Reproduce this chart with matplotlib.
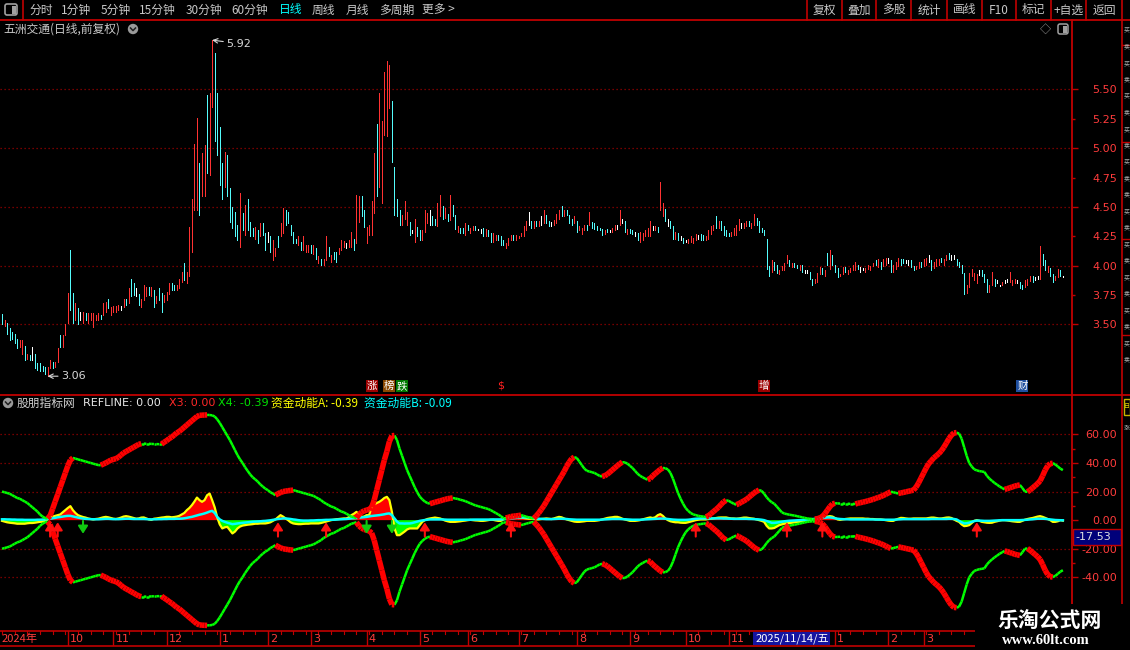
import numpy as np
import matplotlib
matplotlib.use('Agg')
import matplotlib.pyplot as plt
from matplotlib.collections import LineCollection
from matplotlib.patches import Rectangle, FancyBboxPatch, Circle

# ---------------- data ----------------
hi = [
 3.59, 3.54, 3.51, 3.47, 3.44, 3.42, 3.38, 3.37, 3.37, 3.32,
 3.25, 3.24, 3.31, 3.25, 3.17, 3.17, 3.15, 3.14, 3.14, 3.20,
 3.18, 3.18, 3.30, 3.41, 3.41, 3.50, 3.77, 4.13, 3.77, 3.68,
 3.64, 3.61, 3.61, 3.60, 3.60, 3.60, 3.60, 3.58, 3.60, 3.58,
 3.68, 3.69, 3.72, 3.65, 3.66, 3.66, 3.67, 3.66, 3.72, 3.72,
 3.81, 3.89, 3.85, 3.81, 3.76, 3.72, 3.84, 3.82, 3.82, 3.82,
 3.79, 3.74, 3.81, 3.77, 3.75, 3.78, 3.85, 3.85, 3.84, 3.84,
 3.89, 3.95, 4.02, 3.95, 4.33, 4.57, 5.04, 5.26, 4.87, 4.96,
 5.03, 5.45, 5.47, 5.92, 5.81, 5.47, 5.18, 4.87, 4.97, 4.94,
 4.66, 4.50, 4.46, 4.35, 4.62, 4.45, 4.52, 4.57, 4.37, 4.32,
 4.33, 4.30, 4.36, 4.36, 4.28, 4.29, 4.25, 4.22, 4.15, 4.25,
 4.36, 4.49, 4.47, 4.46, 4.35, 4.29, 4.23, 4.25, 4.20, 4.25,
 4.18, 4.18, 4.18, 4.18, 4.15, 4.08, 4.06, 4.06, 4.25, 4.16,
 4.09, 4.12, 4.12, 4.15, 4.22, 4.21, 4.19, 4.22, 4.29, 4.23,
 4.60, 4.59, 4.59, 4.47, 4.33, 4.35, 4.55, 4.96, 5.21, 5.47,
 5.23, 5.65, 5.74, 5.71, 5.40, 4.84, 4.57, 4.47, 4.43, 4.55,
 4.46, 4.37, 4.30, 4.40, 4.33, 4.30, 4.30, 4.47, 4.45, 4.47,
 4.42, 4.40, 4.53, 4.60, 4.51, 4.49, 4.44, 4.60, 4.52, 4.43,
 4.34, 4.32, 4.32, 4.36, 4.35, 4.32, 4.34, 4.34, 4.31, 4.31,
 4.32, 4.31, 4.30, 4.28, 4.28, 4.26, 4.26, 4.25, 4.22, 4.19,
 4.24, 4.26, 4.26, 4.26, 4.25, 4.28, 4.34, 4.38, 4.46, 4.38,
 4.38, 4.38, 4.38, 4.42, 4.47, 4.43, 4.38, 4.37, 4.39, 4.44,
 4.47, 4.51, 4.47, 4.47, 4.43, 4.40, 4.42, 4.38, 4.34, 4.32,
 4.35, 4.35, 4.46, 4.37, 4.36, 4.34, 4.32, 4.31, 4.30, 4.31,
 4.30, 4.32, 4.35, 4.35, 4.47, 4.40, 4.38, 4.31, 4.31, 4.30,
 4.29, 4.28, 4.29, 4.28, 4.30, 4.32, 4.38, 4.34, 4.34, 4.33,
 4.71, 4.53, 4.48, 4.40, 4.38, 4.34, 4.29, 4.28, 4.25, 4.24,
 4.22, 4.23, 4.25, 4.24, 4.27, 4.26, 4.27, 4.26, 4.25, 4.30,
 4.34, 4.35, 4.42, 4.38, 4.38, 4.34, 4.30, 4.28, 4.29, 4.32,
 4.35, 4.40, 4.36, 4.36, 4.38, 4.38, 4.36, 4.44, 4.41, 4.38,
 4.32, 4.30, 4.23, 4.00, 4.05, 4.03, 4.01, 3.96, 4.00, 4.02,
 4.09, 4.05, 4.02, 4.02, 4.01, 4.01, 4.01, 3.96, 3.96, 3.95,
 3.89, 3.89, 3.94, 3.99, 3.98, 3.96, 4.11, 4.13, 4.09, 4.01,
 3.98, 3.93, 3.99, 3.99, 3.96, 3.98, 4.01, 4.03, 4.01, 3.99,
 3.98, 3.98, 4.01, 4.00, 4.02, 4.05, 4.06, 4.03, 4.06, 4.07,
 4.07, 4.05, 4.01, 4.03, 4.07, 4.06, 4.06, 4.05, 4.05, 4.05,
 4.00, 4.00, 4.03, 4.03, 4.06, 4.07, 4.09, 4.05, 4.03, 4.06,
 4.06, 4.07, 4.06, 4.09, 4.11, 4.09, 4.09, 4.06, 4.03, 4.01,
 3.94, 3.84, 3.94, 3.97, 3.94, 3.93, 3.96, 3.96, 3.93, 3.89,
 3.84, 3.95, 3.89, 3.88, 3.84, 3.86, 3.88, 3.89, 3.95, 3.88,
 3.89, 3.88, 3.86, 3.84, 3.88, 3.89, 3.91, 3.91, 3.90, 3.91,
 4.17, 4.10, 4.05, 4.00, 3.98, 3.93, 3.91, 3.97, 3.96, 3.91,
]
lo = [
 3.50, 3.49, 3.42, 3.37, 3.38, 3.34, 3.30, 3.31, 3.25, 3.20,
 3.21, 3.20, 3.20, 3.13, 3.11, 3.10, 3.10, 3.08, 3.06, 3.13,
 3.13, 3.14, 3.18, 3.31, 3.31, 3.41, 3.51, 3.62, 3.51, 3.54,
 3.50, 3.54, 3.51, 3.54, 3.51, 3.54, 3.48, 3.54, 3.54, 3.55,
 3.58, 3.61, 3.64, 3.58, 3.61, 3.61, 3.62, 3.62, 3.65, 3.67,
 3.68, 3.74, 3.75, 3.74, 3.67, 3.65, 3.71, 3.74, 3.75, 3.74,
 3.65, 3.68, 3.71, 3.61, 3.69, 3.71, 3.76, 3.79, 3.79, 3.79,
 3.81, 3.86, 3.88, 3.85, 3.91, 4.12, 4.47, 4.47, 4.43, 4.59,
 4.59, 4.79, 4.77, 5.35, 5.06, 4.94, 4.69, 4.57, 4.67, 4.59,
 4.37, 4.32, 4.25, 4.22, 4.16, 4.30, 4.26, 4.30, 4.25, 4.25,
 4.23, 4.19, 4.25, 4.26, 4.13, 4.20, 4.12, 4.05, 4.08, 4.16,
 4.25, 4.28, 4.35, 4.36, 4.26, 4.19, 4.19, 4.18, 4.13, 4.13,
 4.12, 4.12, 4.11, 4.10, 4.06, 4.02, 4.01, 4.01, 4.05, 4.08,
 4.03, 4.06, 4.03, 4.10, 4.13, 4.16, 4.15, 4.16, 4.16, 4.13,
 4.19, 4.37, 4.42, 4.33, 4.19, 4.26, 4.26, 4.45, 4.59, 4.67,
 4.53, 5.11, 5.10, 5.34, 4.88, 4.43, 4.42, 4.35, 4.35, 4.40,
 4.35, 4.26, 4.28, 4.20, 4.25, 4.22, 4.22, 4.29, 4.36, 4.35,
 4.35, 4.35, 4.34, 4.42, 4.40, 4.41, 4.38, 4.39, 4.42, 4.31,
 4.29, 4.28, 4.28, 4.26, 4.30, 4.28, 4.30, 4.30, 4.30, 4.28,
 4.25, 4.25, 4.25, 4.20, 4.20, 4.22, 4.22, 4.18, 4.18, 4.15,
 4.18, 4.22, 4.22, 4.22, 4.24, 4.25, 4.25, 4.30, 4.35, 4.32,
 4.32, 4.34, 4.34, 4.35, 4.36, 4.36, 4.34, 4.34, 4.35, 4.36,
 4.40, 4.42, 4.42, 4.43, 4.36, 4.35, 4.36, 4.29, 4.30, 4.27,
 4.30, 4.30, 4.35, 4.32, 4.31, 4.30, 4.30, 4.26, 4.27, 4.29,
 4.29, 4.29, 4.30, 4.31, 4.35, 4.36, 4.29, 4.27, 4.28, 4.27,
 4.25, 4.22, 4.20, 4.22, 4.25, 4.25, 4.25, 4.30, 4.30, 4.29,
 4.47, 4.42, 4.38, 4.34, 4.32, 4.23, 4.23, 4.22, 4.22, 4.19,
 4.20, 4.19, 4.20, 4.19, 4.22, 4.23, 4.22, 4.22, 4.22, 4.23,
 4.27, 4.30, 4.32, 4.32, 4.30, 4.26, 4.25, 4.25, 4.25, 4.26,
 4.26, 4.30, 4.32, 4.32, 4.34, 4.34, 4.32, 4.35, 4.35, 4.29,
 4.29, 4.26, 3.97, 3.91, 3.95, 3.96, 3.94, 3.93, 3.96, 3.96,
 4.02, 4.00, 3.99, 3.99, 3.98, 3.96, 3.95, 3.94, 3.94, 3.89,
 3.84, 3.85, 3.86, 3.93, 3.93, 3.91, 4.01, 3.97, 4.01, 3.95,
 3.90, 3.91, 3.93, 3.95, 3.93, 3.95, 3.96, 3.96, 3.97, 3.95,
 3.96, 3.95, 3.97, 3.96, 4.00, 4.01, 3.99, 3.97, 4.00, 4.01,
 4.02, 3.95, 3.95, 3.97, 4.00, 4.01, 4.02, 4.02, 4.01, 3.99,
 3.96, 3.97, 3.98, 3.99, 4.00, 4.01, 4.03, 3.96, 3.98, 4.00,
 4.01, 4.03, 4.01, 4.05, 4.06, 4.05, 4.06, 4.01, 3.99, 3.94,
 3.76, 3.77, 3.82, 3.91, 3.88, 3.85, 3.92, 3.91, 3.86, 3.78,
 3.78, 3.84, 3.83, 3.85, 3.83, 3.84, 3.85, 3.86, 3.86, 3.84,
 3.85, 3.85, 3.81, 3.80, 3.82, 3.84, 3.87, 3.86, 3.88, 3.89,
 3.89, 4.01, 3.96, 3.95, 3.91, 3.86, 3.88, 3.90, 3.91, 3.90,
]
# r = up (red), c = down (cyan), w = flat (white)
col = ("crcccccrrc" "rcwcccccrr" "crrcrrrccr" "cwrcrrrrrc" "rrcrrrrwrc"
       "rccwcrrrcr" "crccrrrccr" "rrcrrrrrcr" "rcrrccccrc" "ccccrcrccc"
       "rcrccwcrrc" "rrcccccrcr" "rrcrcrcrrc" "rccrrrwrrc" "rrccrrrrcr"
       "rrrrccccrr" "rcwrccrrrw" "ccrrcrcrcc" "rccrcrrcww" "crccrrcccr"
       "rrcrrrrrwc" "rcrwrccwrr" "rcrcccrcrr" "rcrcccccrc" "wrrwrwcrcc"
       "wcrrrrrwrc" "rrcwccrcwc" "wrrrrwccrr" "rrcrccccrr" "rrwrrcrrcc"
       "ccccrccrrr" "rcrccrcwwc" "crrrcrcrcc" "crrcrrrrcw" "wrrrrcrcrr"
       "wcrrrccwwc" "crrcrrwcrr" "rcrrcwwccc" "crrrrrwccc" "rrcwwrwwrr"
       "rwccrrrcww" "rccrccrrcw")

# indicator envelope (upper line, lower line is its mirror)
env = [
 20, 19.5, 19, 18.5, 17.5, 16.5, 15.5, 15, 14, 13,
 12, 10.5, 9, 7.5, 6, 4, 2.5, 1.5, 1.2, 3,
 8, 13, 18, 23, 28, 33, 38, 42, 43.5, 43,
 42.5, 42, 41.5, 41, 40.5, 40, 39.5, 39, 38.5, 38.4,
 39.2, 40, 41, 42, 42.5, 43, 44, 45.5, 47, 48,
 49, 50, 51, 52, 53, 53.5, 53.5, 53.4, 53.4, 53.3,
 53.2, 53.2, 53.1, 53.1, 54.5, 55.5, 57, 58, 59.5,
 61, 62, 63.5, 65, 66.5, 68, 69.5, 71, 72.5, 73.3,
 73.4, 73.5, 73.6, 73.5, 73.3, 72.5, 70.5, 68, 65, 62,
 59, 56, 52.5, 49, 45.5, 42.5, 40, 37, 34.5, 32,
 30, 28.5, 27, 25, 23.5, 22, 21, 19.5, 18.5, 17.5,
 18.5, 19.3, 20, 20.3, 20.6, 20.8, 21, 20.5, 20, 19.5,
 19, 18.5, 18, 17.5, 17, 16, 15, 14, 12.5, 11.5,
 10.5, 9.5, 9, 8, 7, 6, 5.5, 4.5, 3.5, 2.5,
 2, 1.5, 4, 5.5, 6.5, 7, 7.5, 9, 14, 21,
 28, 35, 42, 48, 55, 59, 59.2, 56, 50, 45,
 40, 35, 31, 27, 23, 19.5, 16.5, 14.5, 13, 12,
 11.5, 12, 12.5, 13, 13.5, 14, 14.5, 15, 15.3, 15.5,
 15.2, 14.8, 14.3, 13.8, 13.3, 12.5, 11.8, 11, 10.3, 9.8,
 9.3, 8.8, 8.3, 7.8, 7, 6, 5, 4, 2.8, 1.5,
 1.5, 2, 2.5, 2.8, 3, 3.2,
 3.5, 3, 2.5,
 2, 1.5, 1.2, 3, 5, 7.5, 10, 13, 16, 19,
 22, 25, 28, 31, 34, 37.5, 40.5, 43, 44, 43.5,
 41, 38.5, 36, 34.5, 34, 33.5, 33, 32, 31, 30.5,
 31, 32, 33.5, 35, 36.5, 38, 39.5, 40.5, 40.4, 39.5,
 38, 36.5, 34.5, 32.5, 31, 30, 29, 28.3, 29, 31,
 32.5, 34, 35.5, 36.5, 36.3, 35.5, 33, 29, 24, 19,
 15, 11.5, 8.5, 6.5, 5, 4, 3.5, 3, 2.7, 2.5,
 2.3, 3, 4.5, 6, 7.5, 9, 11, 12.8, 13.8, 13.5,
 12.5, 11.5, 10.8, 11.5, 12.5, 13.5, 14.5, 16, 17.5, 19,
 20.2, 21, 20.5, 18.5, 16, 14, 12.5, 11.5, 9.5, 7.5,
 5.5, 4.6, 4.2, 3.8, 3.5, 3.2, 2.8, 2.4, 2, 1.6,
 1.2, 1, 0.8, 0.8, 1, 1.5, 2.5, 4.5, 7, 9.5,
 11.3, 11.8, 11.7, 11.6, 11.6, 11.5, 11.5, 11.4, 11.4, 11.3,
 11.8, 12.2, 12.6, 13, 13.5, 14, 14.5, 15.2, 15.8, 16.4,
 17.2, 18, 19, 19.8, 19.6,
 19, 18.7, 19, 19.4,
 19.8, 20.2, 20.6, 21, 23, 26, 29.5, 33, 36.5, 39.5,
 41.5, 43.5, 45, 46.5, 48.5, 51, 54, 57, 59.5, 61,
 61.2, 60.5, 57, 51, 45, 40, 37.5, 35.5, 34.8, 34.3,
 34, 33.7, 31, 29, 27.5, 26, 24.8, 23.5, 22.5, 21.5,
 22, 22.6, 23.2, 23.8, 24.3, 24.6, 22.5, 20, 19.8, 21,
 22.5, 24, 25.5, 27.5, 31, 35, 38, 39.5, 39.8, 39,
 37.5, 36, 35,
]
# 资金动能A (yellow)
ma = [
 -0.5, -1, -1.5, -1.8, -2, -2.2, -2.5, -2.5, -2.5, -2.5, -2.2, -2, -2, -1.8, -1.5, -1.2, -1, -0.5, 0.5,
 1.5, 2.5, 3, 3.5, 4, 5.5, 7, 8.5, 9.8, 7, 5, 3.5, 2.8, 2.2, 1.8,
 1.2, 0.8, 0.5, 0.8, 1, 1.5, 2, 2.3, 2, 1.5, 1, 0.8, 1.2, 1.8, 2.5, 2.8, 2.5, 2, 1.5, 1, 1.2, 1.8, 1.9, 1.2, 0.5, 0.2,
 1, 1.2, 1.5, 1.8, 2, 2.3, 2.3, 2, 2.2, 2.5, 3, 4, 5, 7,
 8.5, 10.5, 13, 15.8, 14, 12.8, 14, 17.4, 18.6, 14, 9, 2,
 -3, -5.8, -5, -4.7, -7, -9.3, -8, -5.8, -4.5, -3.8, -3.5, -3.2, -3, -2.8, -2.5, -2.5, -2.3, -2.3, -2.3, -2, -1.5, -0.5, 0.5,
 2, 3.5, 2.5, 1.2, 0, -1.5, -2.3, -2.6, -2.8, -2.8, -2.6, -2.5, -2.5, -2.3, -2.3, -2.3, -2.3, -2, -1.5, -1,
 -0.5, 0, 0.3, 0.6, 0.8, 1, 1.2, 1.2, 2, 3.5, 4.5, 5.8,
 4, 2.3, 2.5, 3.5, 3.5, 9.3, 11, 12, 12.8, 14, 15.5, 16.3, 14, 5.8, -5.8, -10.5, -10.5, -9.3, -8, -6.5,
 -5.8, -5.8, -5.8, -5.8, -3.5, -1.2, 0, 0.8, 1.2,
 1.5, 1.8, 1.5, 1.2, 0.5, -0.3, -0.8, -1.2, -1.2, -1.2, -1, -0.8, -0.5, -0.3, 0, 0.2, 0, -0.2, -0.3, -0.5,
 -0.5, -0.3, 0, 0.3, 0.2, -0.2, -0.5, -0.5, 0.5,
 1.5, 2.3, 2.3, 2, 1.8, 1.5,
 1.8, 1.5, 1.2, 1, 1, 0.8, 0.5, 0.5, 0.8, 1, 1.2, 1, 0.8, 1.2, 1.8, 2.3, 2, 1.2, 0.5, 0, -0.5, -1, -1.2, -1.2,
 -1, -0.8, -0.5, -0.5, -0.5, -0.5, -0.3, 0, 0.5, 1, 1.5, 1.8, 2, 2.3, 2.3, 1.8, 1, 0.5, 0, -0.5,
 -0.5, -0.5, -0.3, 0, 0.5, 1, 1.5, 1.9, 1.5, 2,
 3.5, 4.2, 3, 1.2, 0, -0.8, -1.2, -1.5, -1.5, -1.8, -1.9, -1.9, -1.5, -1, -0.5, 0, 0.3, 0.5, 0.5, 0.5,
 0.8, 1, 1.2, 1.5, 1.8, 1.9, 1.9, 1.9, 1.5, 1.2, 1.2, 1, 1.2, 1.5, 1.8, 1.8, 1.5, 1.2, 1, 0.5, 0, -0.5,
 -1.2, -4, -5.8, -5.8, -5.5, -4.5, -3.5, -3, -2.5, -2.3, -2,
 -1.8, -1.5, -1.2, -1.2, -0.8, -0.5, 0, 0.3, 0.5, 0.8, 1, 1.3, 1.6, 2, 2.5, 2.8, 2.5, 1.5, 0.5, 0.2,
 0.5, 0.8, 1, 1.2, 1.2, 1.2, 1.2,
 1.2, 1.2, 1, 1, 0.8, 0.8, 0.6, 0.5, 0.5, 0.3, 0, -0.3, -0.5, -0.5,
 0.3, 1, 1.6, 1.5, 1.2, 1, 1, 1.2, 1.2, 1.2, 1.2, 1.2, 1.2, 1.5,
 1.8, 1.8, 1.5, 1.2, 1.2, 1.5, 1.8, 1.9, 1.5, 0.5, -0.5, -1.2, -3, -4.2, -4, -3.5, -2, -0.5, 0, -0.5,
 -1.2, -1.5, -1.8, -1.9, -1.8, -1.2, -0.8, -0.3, 0, 0, -0.2, -0.5, -0.8, -1, -1.2, -1.2, -0.5, 0.3, 0.8, 1.2,
 1.5, 2, 2.5, 2.8, 2.3, 1.6, 0.8, 0, -1.2, -1.2, -0.8, 0, -0.39,
]
# 资金动能B (cyan)
mb = [
 0.6, 0.6, 0.5, 0.5, 0.4, 0.4, 0.3, 0.3, 0.3, 0.2, 0.2, 0.2, 0.2, 0.2, 0.3, 0.3, 0.4, 0.5, 0.8,
 1, 1.3, 1.6, 2, 2.2, 2.5, 2.8, 3, 3, 2.6, 2.2, 1.8, 1.4, 1.1, 0.9,
 0.8, 0.7, 0.6, 0.6, 0.6, 0.7, 0.8, 0.9, 0.9, 0.8, 0.7, 0.7, 0.7, 0.8, 0.9, 1, 1, 0.9, 0.8, 0.8,
 0.8, 0.8, 0.8, 0.7, 0.6, 0.5, 0.6, 0.6, 0.7, 0.7, 0.8, 0.8, 0.9, 0.9, 0.9, 1, 1, 1.1, 1.3, 1.6,
 2, 2.3, 2.8, 3.3, 3.8, 4.2, 4.7, 5.3, 6, 6.5, 5, 2.3,
 0.5, -0.5, -1.2, -1.8, -2.3, -2.8, -2.6, -2.3, -2.1, -1.9, -1.7, -1.5, -1.3, -1.1, -1, -0.9, -0.8, -0.6, -0.5, -0.3, -0.1, 0.2, 0.5,
 0.8, 1, 1.2, 1.2, 1, 0.8, 0.5, 0.3, 0, -0.2, -0.3, -0.3, -0.3, -0.2, -0.2, -0.1, 0, 0, 0.1, 0.2,
 0.2, 0.3, 0.3, 0.4, 0.5, 0.6, 0.7, 0.8, 1, 1.2, 1.3, 1.5,
 1.7, 1.9, 2.1, 2.3, 2.6, 2.9, 3.1, 3.3, 3.5, 3.8, 4.1, 4.5, 4.7, 3.5, 1.2, -1, -2.3, -2.3, -2.4, -2.3,
 -2.3, -2, -1.5, -1, -0.5, -0.2, 0.1, 0.3, 0.5,
 0.5, 0.5, 0.5, 0.5, 0.5, 0.4, 0.3, 0.3, 0.3, 0.3, 0.3, 0.3, 0.3, 0.3, 0.3, 0.3, 0.4, 0.4, 0.4, 0.4,
 0.4, 0.4, 0.4, 0.4, 0.5, 0.5, 0.5, 0.5, 0.6,
 0.8, 1, 1.2, 1.4, 1.6, 1.8, 1.9, 1.9, 1.9, 1.8, 1.6, 1.4, 1.2, 1, 0.9, 0.8, 0.7, 0.7, 0.7, 0.8,
 0.9, 1, 1, 0.9, 0.8, 0.6, 0.5, 0.4, 0.3, 0.3,
 0.3, 0.3, 0.3, 0.3, 0.3, 0.3, 0.3, 0.3, 0.4, 0.5, 0.6, 0.7, 0.8, 0.8, 0.8, 0.8, 0.7, 0.6, 0.5, 0.4,
 0.3, 0.3, 0.3, 0.3, 0.4, 0.5, 0.6, 0.7, 0.8, 0.9, 1, 1.1, 1.1, 1, 0.8, 0.6, 0.4, 0.3, 0.2, 0.2,
 0.2, 0.2, 0.3, 0.5, 0.8, 1, 1.1, 1.2, 1.2, 1.2,
 1.2, 1.2, 1.2, 1.2, 1.2, 1.2, 1.1, 1.1, 1, 1, 0.9, 0.9, 0.9, 0.9, 0.9, 0.9, 0.8, 0.8, 0.7, 0.6, 0.5, 0.3,
 0, -0.6, -1.2, -1.9, -1.9, -1.7, -1.4, -1.1, -0.8, -0.6, -0.4,
 -0.3, -0.2, -0.1, 0, 0.1, 0.2, 0.3, 0.5, 0.7, 0.9, 1.1, 1.3, 1.5, 1.7, 1.9, 1.9, 1.7, 1.3, 1, 0.8,
 0.7, 0.6, 0.6, 0.5, 0.5, 0.5, 0.5,
 0.5, 0.5, 0.5, 0.5, 0.5, 0.5, 0.4, 0.4, 0.4, 0.3, 0.3, 0.3, 0.3, 0.3, 0.4, 0.5, 0.6, 0.7, 0.7,
 0.7, 0.7, 0.7, 0.7, 0.7, 0.7, 0.7, 0.7, 0.7, 0.8, 0.8, 0.8, 0.8, 0.8, 0.8, 0.8, 0.9, 0.9, 0.8, 0.5,
 -0.5, -1.5, -2.3, -2.2, -1.8, -1.2, -0.6, -0.3, -0.3, -0.4, -0.5, -0.5, -0.5, -0.4, -0.3, -0.2, -0.1, 0, 0, 0,
 0, 0, 0, 0, 0, 0.1, 0.2, 0.3, 0.5, 0.6, 0.8, 1, 1, 1, 0.9, 0.7, 0.5, 0.3, 0.1, 0, -0.05, -0.09,
]
up_idx = [19, 22, 109, 128, 167, 201, 274, 310, 324, 385]
dn_idx = [32, 144, 154]

price_major = [3.5, 4.0, 4.5, 5.0, 5.5]
price_minor = [3.75, 4.25, 4.75, 5.25]
ind_major = [60, 40, 20, 0, -20, -40]
ind_minor = [50, 30, 10, -10, -30]
ind_grid = [60, 40, 20, -20, -40]

year_lbl = '2024年'
month_idx = [26, 44, 65, 86, 105, 122, 144, 165, 184, 204, 227, 248, 270, 287, 329, 350, 364]
month_lbl = ['10', '11', '12', '1', '2', '3', '4', '5', '6', '7', '8', '9', '10', '11', '1', '2', '3']
cursor_idx = 312
cursor_lbl = '2025/11/14/五'
cursor_val = '-17.53'

event_idx = [146, 153, 158, 197, 301, 403]
event_txt = ['涨', '榜', '跌', '$', '增', '财']
event_bg = ['#9c0000', '#8a4800', '#007800', None, '#9c0000', '#1f4f9f']

toolbar_left = ['分时', '1分钟', '5分钟', '15分钟', '30分钟', '60分钟', '日线', '周线', '月线', '多周期', '更多 >']
toolbar_right = ['复权', '叠加', '多股', '统计', '画线', 'F10', '标记', '+自选', '返回']
title = '五洲交通(日线,前复权)'
ind_name = '股朋指标网'

# ---------------- styling ----------------
plt.rcParams['font.family'] = ['Noto Sans CJK SC', 'DejaVu Sans']
plt.rcParams['axes.unicode_minus'] = False

W, H = 1130, 650
BG = 'black'
AXR = '#c00000'
GRID = '#9a0000'
TRED = '#ff3c3c'
NUMF = ['DejaVu Sans']

fig = plt.figure(figsize=(W / 100, H / 100), dpi=100, facecolor=BG)


def add_ax(x0, y0, x1, y1, **kw):
    return fig.add_axes([x0 / W, 1 - y1 / H, (x1 - x0) / W, (y1 - y0) / H], **kw)


N = len(hi)
XL = (-0.79, 422.6)

# ---------------- price panel ----------------
axP = add_ax(0, 20, 1072, 395)
axP.set_facecolor(BG)
axP.set_xlim(*XL)
axP.set_ylim(2.90, 6.091)
for s in ['top', 'left', 'bottom']:
    axP.spines[s].set_visible(False)
axP.spines['right'].set_color(AXR)
axP.spines['right'].set_linewidth(1.3)
axP.set_xticks([])
axP.yaxis.tick_right()
axP.set_yticks(price_major)
axP.set_yticklabels([f'{t:.2f}' for t in price_major], ha='right', color=TRED, fontsize=8, family=NUMF)
axP.set_yticks(price_minor, minor=True)
axP.set_yticklabels([f'{t:.2f}' for t in price_minor], minor=True, ha='right', color=TRED, fontsize=8, family=NUMF)
axP.tick_params(axis='y', which='major', length=4.3, width=1, color=AXR, pad=28)
axP.tick_params(axis='y', which='minor', length=2.2, width=1, color=AXR, pad=30.2)
for g in price_major:
    axP.axhline(g, color=GRID, lw=0.9, ls=(0, (1, 2.2)), zorder=0)

cmap = {'r': '#ff3232', 'c': '#54fcfc', 'w': '#ffffff'}
segs = [[(i, lo[i]), (i, hi[i])] for i in range(N)]
lc = LineCollection(segs, colors=[cmap[col[i]] for i in range(N)], linewidths=0.72, antialiaseds=False, zorder=3)
axP.add_collection(lc)

ihi = int(np.argmax(hi))
ilo = int(np.argmin(lo))
axP.annotate(f'{hi[ihi]:.2f}', xy=(ihi, hi[ihi]), xytext=(10, -2.5), textcoords='offset points',
             color='#d8d8d8', fontsize=8, family=NUMF, va='center', ha='left',
             arrowprops=dict(arrowstyle='->', color='#d8d8d8', lw=0.8, shrinkA=0, shrinkB=0))
axP.annotate(f'{lo[ilo]:.2f}', xy=(ilo, lo[ilo]), xytext=(9.5, 0), textcoords='offset points',
             color='#d8d8d8', fontsize=8, family=NUMF, va='center', ha='left',
             arrowprops=dict(arrowstyle='->', color='#d8d8d8', lw=0.8, shrinkA=0, shrinkB=0))

for i, t, bg in zip(event_idx, event_txt, event_bg):
    if bg is None:
        axP.text(i, 0.024, t, transform=axP.get_xaxis_transform(), ha='center', va='center',
                 fontsize=8, color='#ff2020', family=NUMF, zorder=5)
    else:
        axP.text(i, 0.024, t, transform=axP.get_xaxis_transform(), ha='center', va='center',
                 fontsize=7.5, color='white', zorder=5,
                 bbox=dict(boxstyle='square,pad=0.08', fc=bg, ec='none'))

# ---------------- indicator panel ----------------
axI = add_ax(0, 395, 1072, 630)
axI.set_facecolor(BG)
axI.set_xlim(*XL)
axI.set_ylim(-76.8, 87.5)
for s in ['top', 'left', 'bottom']:
    axI.spines[s].set_visible(False)
axI.spines['right'].set_color(AXR)
axI.spines['right'].set_linewidth(1.3)
axI.set_xticks([])
axI.yaxis.tick_right()
axI.set_yticks(ind_major)
axI.set_yticklabels([f'{t:.2f}' for t in ind_major], ha='right', color=TRED, fontsize=8, family=NUMF)
axI.set_yticks(ind_minor, minor=True)
axI.set_yticklabels([''] * len(ind_minor), minor=True)
axI.tick_params(axis='y', which='major', length=4.3, width=1, color=AXR, pad=28)
axI.tick_params(axis='y', which='minor', length=2.2, width=1, color=AXR)
for g in ind_grid:
    axI.axhline(g, color=GRID, lw=0.9, ls=(0, (1, 2.2)), zorder=0)

A = np.array(ma, dtype=float)
B = np.array(mb, dtype=float)
xa = np.arange(len(A))
xb = np.arange(len(B))
axI.fill_between(xa, 0, A, where=A >= 0, interpolate=True, color='#ff0000', lw=0, zorder=2)
axI.fill_between(xa, 0, A, where=A <= 0, interpolate=True, color='#00ff00', lw=0, zorder=2)
axI.plot(xa, A, color='#ffff00', lw=1.6, zorder=3)
axI.plot(xb, B, color='#00ffff', lw=1.8, zorder=4)

V = np.array(env, dtype=float)
red_s, grn_s = [], []
for sgn in (1, -1):
    for i in range(1, len(V)):
        seg = [(i - 1, sgn * V[i - 1]), (i, sgn * V[i])]
        (red_s if V[i] > V[i - 1] else grn_s).append(seg)
axI.add_collection(LineCollection(grn_s, colors='#00ff00', linewidths=1.8, zorder=5))
axI.add_collection(LineCollection(red_s, colors='#ff0000', linewidths=4.0, capstyle='butt', zorder=6))

for i in up_idx:
    axI.annotate('', xy=(i, -1.5), xytext=(i, -11.5),
                 arrowprops=dict(arrowstyle='-|>,head_width=0.32,head_length=0.5', color='#ff1010',
                                 lw=1.5, shrinkA=0, shrinkB=0, mutation_scale=9), zorder=7)
for i in dn_idx:
    axI.annotate('', xy=(i, -9.5), xytext=(i, -0.5),
                 arrowprops=dict(arrowstyle='-|>,head_width=0.32,head_length=0.5', color='#10c810',
                                 lw=1.5, shrinkA=0, shrinkB=0, mutation_scale=9), zorder=7)

# ---------------- date axis ----------------
axD = add_ax(0, 631, 1072, 646)
axD.set_facecolor(BG)
axD.set_xlim(*XL)
axD.set_ylim(0, 1)
axD.axis('off')
axD.text(0, 0.5, year_lbl, ha='left', va='center', color=TRED, fontsize=8)
for i, t in zip(month_idx, month_lbl):
    axD.axvline(i, color=AXR, lw=1.0)
    axD.annotate(t, xy=(i, 0.5), xytext=(1.5, 0), textcoords='offset points', ha='left', va='center',
                 color=TRED, fontsize=8, family=NUMF)
for i in range(0, N, 5):
    axD.plot([i, i], [1.0, 0.82], color=AXR, lw=0.8)
axD.text(cursor_idx, 0.5, cursor_lbl, ha='center', va='center', color='white', fontsize=8, zorder=5,
         bbox=dict(boxstyle='square,pad=0.15', fc='#1414a0', ec='none'))

# ---------------- overlay (frame, toolbar, texts) ----------------
axO = fig.add_axes([0, 0, 1, 1], zorder=20)
axO.set_xlim(0, W)
axO.set_ylim(H, 0)
axO.axis('off')
axO.patch.set_alpha(0)

axO.plot([0, W], [20, 20], color=AXR, lw=1.3)
axO.plot([0, W], [395, 395], color=AXR, lw=1.3)
axO.plot([0, 978], [631, 631], color=AXR, lw=1.2)
axO.plot([0, 978], [646, 646], color=AXR, lw=1.2)
axO.plot([1122, 1122], [20, 650], color=AXR, lw=1.2)
for yy in [45, 142, 239, 335]:
    axO.plot([1122, W], [yy, yy], color=AXR, lw=1.0)

# toolbar
axO.plot([23, 23], [0, 20], color=AXR, lw=1.2)
axO.add_patch(FancyBboxPatch((5, 4), 12, 11, boxstyle='round,pad=0,rounding_size=2', fc='none', ec='#a0a0a0', lw=1.2))
axO.add_patch(Rectangle((11.5, 5.5), 4, 8, fc='#a0a0a0', ec='none'))
tl_x = [29, 61, 101, 139, 186, 231, 279, 312, 346, 379, 422]
for x, t in zip(tl_x, toolbar_left):
    axO.text(x, 10, t, ha='left', va='center', fontsize=8.5, color='#00ffff' if t == '日线' else '#c8c8c8')
seps = [807, 842, 876, 911, 947, 982, 1016, 1051, 1086, 1122]
for x in seps:
    axO.plot([x, x], [0, 20], color=AXR, lw=1.2)
for k, t in enumerate(toolbar_right):
    axO.text((seps[k] + seps[k + 1]) / 2, 10, t, ha='center', va='center', fontsize=8.5, color='#c8c8c8')

# price title
axO.text(3, 29, title, ha='left', va='center', fontsize=8.5, color='#c8c8c8')
for cx, cy in [(133, 29), (8, 403)]:
    axO.add_patch(Circle((cx, cy), 5.2, fc='#9a9a9a', ec='none'))
    axO.plot([cx - 2.5, cx, cx + 2.5], [cy - 1, cy + 1.6, cy - 1], color='#202020', lw=1.1)
axO.text(1045, 29, '◇', ha='center', va='center', fontsize=8, color='#a0a0a0')
axO.add_patch(FancyBboxPatch((1058, 24), 10, 10, boxstyle='round,pad=0,rounding_size=2', fc='none', ec='#a0a0a0', lw=1.1))
axO.add_patch(Rectangle((1063, 25.5), 3.5, 7, fc='#a0a0a0', ec='none'))

# indicator header
axO.text(17, 403, ind_name, ha='left', va='center', fontsize=8.5, color='#d0d0d0')
axO.text(83, 403, 'REFLINE: 0.00', ha='left', va='center', fontsize=8, color='#e8e8e8', family=NUMF)
axO.text(169, 403, 'X3: 0.00', ha='left', va='center', fontsize=8, color='#ff2828', family=NUMF)
axO.text(218, 403, f'X4: {A[-1]:.2f}', ha='left', va='center', fontsize=8, color='#00e000', family=NUMF)
axO.text(271, 403, f'资金动能A: {A[-1]:.2f}', ha='left', va='center', fontsize=8.5, color='#ffff00')
axO.text(364, 403, f'资金动能B: {B[-1]:.2f}', ha='left', va='center', fontsize=8.5, color='#00ffff')

# cursor value box on the indicator axis
axO.add_patch(Rectangle((1073, 529), 48, 16, fc='#00007a', ec=AXR, lw=1.0))
axO.text(1075, 537, cursor_val, ha='left', va='center', fontsize=8, color='#e0e0e0', family=NUMF)

# right side strip fragments (small so they stay inside the picture)
strip = '买卖买卖买卖买卖买卖卖买卖买卖买卖买卖买卖'
for k, ch in enumerate(strip):
    axO.text(1123.5, 30 + k * 16.5, ch, ha='left', va='center', fontsize=4.3, color='#b0b0b0')
axO.add_patch(Rectangle((1123.5, 399), 6, 16, fc='none', ec='#c8b400', lw=1.0))
axO.text(1124, 407, '日', ha='left', va='center', fontsize=4.3, color='#e0d000')
axO.text(1124, 428, '涨', ha='left', va='center', fontsize=4.3, color='#b0b0b0')

# watermark
axO.add_patch(Rectangle((975, 604), 160, 50, fc='black', ec='none', zorder=30))
axO.text(1050, 620, '乐淘公式网', ha='center', va='center', fontsize=15, color='white', fontweight='bold', zorder=31)
axO.text(1046, 641, 'www.60lt.com', ha='center', va='center', fontsize=10.5, color='white', fontweight='bold',
         family=['Liberation Serif', 'DejaVu Serif'], zorder=31)

fig.savefig('out.png', dpi=100, facecolor=BG)
